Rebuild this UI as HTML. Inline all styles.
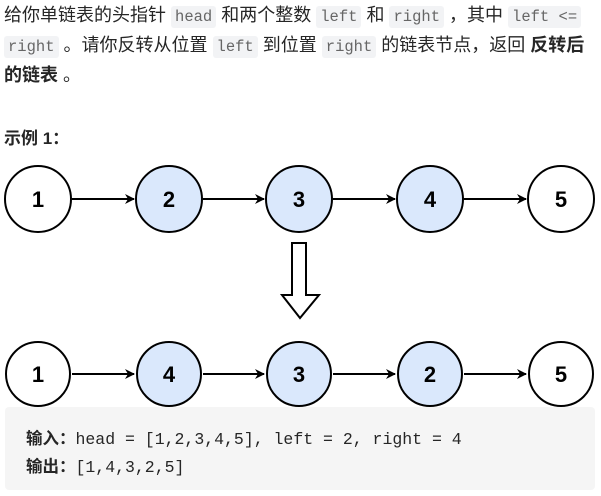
<!DOCTYPE html>
<html><head><meta charset="utf-8"><style>
body{margin:0;width:601px;height:496px;background:#fff;position:relative;overflow:hidden;font-family:"Liberation Sans","Noto Sans CJK SC",sans-serif;color:#262626}
.p{position:absolute;left:4px;top:1px;width:596px;font-size:18px;line-height:28px;white-space:nowrap}
code{font-family:"Liberation Mono","Noto Sans CJK SC",monospace;font-size:15.5px;background:#f2f3f5;color:#666;padding:2px 4px;border-radius:3px}
.ex{position:absolute;left:4px;top:124px;font-size:17px;font-weight:bold}
.box{position:absolute;left:5px;top:407px;width:590px;height:83px;background:#f5f5f5;border-radius:4px}
.box div{position:absolute;left:21px;font-family:"Liberation Mono","Noto Sans CJK SC",monospace;font-size:16.5px;color:#262626;white-space:nowrap}
</style></head><body>
<div class="p">给你单链表的头指针 <code>head</code> 和两个整数 <code>left</code> 和 <code>right</code> ，其中 <code>left &lt;=</code><br><code>right</code> 。请你反转从位置 <code>left</code> 到位置 <code>right</code> 的链表节点，返回 <b>反转后</b><br><b>的链表</b> 。</div>
<div class="ex">示例 1：</div>
<div class="box"><div style="top:18px"><b>输入：</b>head = [1,2,3,4,5], left = 2, right = 4</div><div style="top:46px"><b>输出：</b>[1,4,3,2,5]</div></div>
<svg width="601" height="410" style="position:absolute;left:0;top:0">
<defs><marker id="a" markerWidth="10" markerHeight="10" refX="9" refY="5" orient="auto" markerUnits="userSpaceOnUse"><path d="M0,0 L10,5 L0,10 L3,5z" fill="#000"/></marker></defs>
<g stroke="#000" stroke-width="2" font-family="Liberation Sans,sans-serif" font-weight="bold" font-size="22">
<line x1="72" y1="199" x2="134" y2="199" marker-end="url(#a)"/>
<line x1="203" y1="199" x2="264" y2="199" marker-end="url(#a)"/>
<line x1="333" y1="199" x2="395" y2="199" marker-end="url(#a)"/>
<line x1="464" y1="199" x2="526" y2="199" marker-end="url(#a)"/>
<line x1="72" y1="374" x2="134" y2="374" marker-end="url(#a)"/>
<line x1="203" y1="374" x2="264" y2="374" marker-end="url(#a)"/>
<line x1="333" y1="374" x2="395" y2="374" marker-end="url(#a)"/>
<line x1="464" y1="374" x2="526" y2="374" marker-end="url(#a)"/>
<circle cx="38" cy="199" r="33" fill="#fff"/><circle cx="169" cy="199" r="33" fill="#dae8fc"/><circle cx="299" cy="199" r="33" fill="#dae8fc"/><circle cx="430" cy="199" r="33" fill="#dae8fc"/><circle cx="561" cy="199" r="33" fill="#fff"/>
<circle cx="38" cy="374" r="32" fill="#fff"/><circle cx="169" cy="374" r="32" fill="#dae8fc"/><circle cx="299" cy="374" r="32" fill="#dae8fc"/><circle cx="430" cy="374" r="32" fill="#dae8fc"/><circle cx="561" cy="374" r="32" fill="#fff"/>
<path d="M292,243 H306 V295 H319 L300,318 L282,295 H292 Z" fill="#fff"/>
<g stroke="none" fill="#000" text-anchor="middle">
<text x="38" y="207">1</text><text x="169" y="207">2</text><text x="299" y="207">3</text><text x="430" y="207">4</text><text x="561" y="207">5</text>
<text x="38" y="382">1</text><text x="169" y="382">4</text><text x="299" y="382">3</text><text x="430" y="382">2</text><text x="561" y="382">5</text>
</g></g></svg>
</body></html>
